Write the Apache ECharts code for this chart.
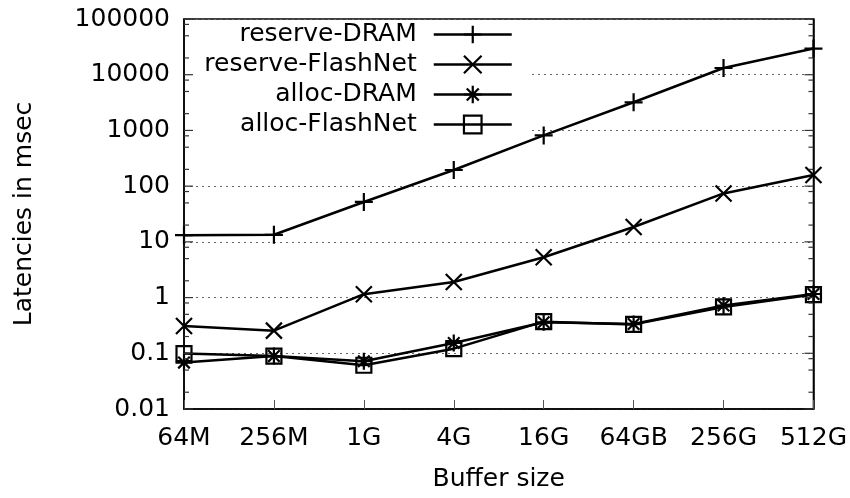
<!DOCTYPE html>
<html>
<head>
<meta charset="utf-8">
<script src="https://cdn.jsdelivr.net/npm/echarts@6/dist/echarts.min.js"></script>
<style>
  html, body { margin: 0; padding: 0; background: #fff; }
  #chart { width: 850px; height: 498px; }
</style>
</head>
<body>
<div id="chart"></div>
<script>
// Buffer sizes along the x axis
const bufferSizes = ['64M', '256M', '1G', '4G', '16G', '64GB', '256G', '512G'];

// Latencies in msec for each configuration
const reserveDram = [13.2, 13.4, 52, 195, 815, 3200, 13200, 29500];
const reserveFlashNet = [0.31, 0.255, 1.15, 1.9, 5.3, 18.5, 74, 158];
const allocDram = [0.068, 0.089, 0.072, 0.153, 0.36, 0.335, 0.72, 1.16];
const allocFlashNet = [0.099, 0.089, 0.061, 0.121, 0.37, 0.33, 0.68, 1.13];

// Decade tick labels on the log axis
const yTickLabels = ['0.01', '0.1', '1', '10', '100', '1000', '10000', '100000'];
// Minor tick multipliers inside each decade
const minorTickSteps = [2, 5, 8];

const FONT = 'DejaVu Sans';
const FS = 25;

const yMin = Number(yTickLabels[0]);
const yMax = Number(yTickLabels[yTickLabels.length - 1]);

// Tick values (major + minor) for the mirrored inward ticks
const tickData = [];
yTickLabels.forEach(function (lbl, i) {
  const base = Number(lbl);
  tickData.push([0, base, 1]);
  if (i < yTickLabels.length - 1) {
    minorTickSteps.forEach(function (m) { tickData.push([0, base * m, 0]); });
  }
});

const SYM = {
  plus: 'path://M0,5L10,5M5,0L5,10',
  cross: 'path://M0,0L10,10M10,0L0,10',
  star: 'path://M0,5L10,5M5,0L5,10M1.6,1.6L8.4,8.4M8.4,1.6L1.6,8.4',
  square: 'path://M0,0L10,0L10,10L0,10Z'
};

function lineSeries(name, data, symbol, size) {
  return {
    name: name,
    type: 'line',
    data: data,
    symbol: symbol,
    symbolSize: size,
    showAllSymbol: true,
    lineStyle: { color: '#000', width: 2.5 },
    itemStyle: { color: 'rgba(0,0,0,0)', borderColor: '#000', borderWidth: 2.2 },
    emphasis: { disabled: true },
    z: 3
  };
}

const chart = echarts.init(document.getElementById('chart'), null, { renderer: 'canvas' });

chart.setOption({
  animation: false,
  backgroundColor: '#fff',
  textStyle: { fontFamily: FONT },
  grid: {
    left: 184, right: 35, top: 19, bottom: 89,
    show: true, borderColor: '#000', borderWidth: 1.5, backgroundColor: 'transparent'
  },
  legend: {
    data: ['reserve-DRAM', 'reserve-FlashNet', 'alloc-DRAM', 'alloc-FlashNet'],
    orient: 'vertical',
    align: 'right',
    right: 322,
    top: 21,
    padding: [1, 15, 2, 16],
    backgroundColor: '#fff',
    itemWidth: 78,
    itemHeight: 22,
    itemGap: 5,
    selectedMode: false,
    itemStyle: { borderWidth: 2.2 },
    lineStyle: { width: 2.5 },
    textStyle: { fontFamily: FONT, fontSize: FS, color: '#000', padding: [0, 12, 0, 0] }
  },
  xAxis: {
    type: 'category',
    data: bufferSizes,
    boundaryGap: false,
    name: 'Buffer size',
    nameLocation: 'middle',
    nameGap: 58,
    nameTextStyle: { fontFamily: FONT, fontSize: FS, color: '#000' },
    axisLine: { lineStyle: { color: '#000', width: 1.5 } },
    axisTick: { inside: true, length: 9, interval: 0, lineStyle: { color: '#555', width: 1 } },
    axisLabel: { fontFamily: FONT, fontSize: FS, color: '#000', margin: 17, interval: 0, hideOverlap: false },
    splitLine: { show: false }
  },
  yAxis: [{
    type: 'log',
    logBase: 10,
    min: yMin,
    max: yMax,
    interval: 1,
    name: 'Latencies in msec',
    nameLocation: 'middle',
    nameGap: 147,
    nameRotate: 90,
    nameTextStyle: { fontFamily: FONT, fontSize: FS, color: '#000' },
    axisLine: { show: true, lineStyle: { color: '#000', width: 1.5 } },
    axisTick: { show: false },
    axisLabel: {
      fontFamily: FONT, fontSize: FS, color: '#000', margin: 14,
      formatter: function (v) {
        const idx = Math.round(Math.log10(v)) - Math.round(Math.log10(yMin));
        return yTickLabels[idx] !== undefined ? yTickLabels[idx] : '';
      }
    },
    splitLine: { show: true, lineStyle: { color: '#666', width: 1, type: [2, 4] } }
  }, {
    type: 'log',
    logBase: 10,
    min: yMin,
    max: yMax,
    interval: 1,
    position: 'right',
    axisLine: { show: true, lineStyle: { color: '#000', width: 1.5 } },
    axisTick: { show: false },
    axisLabel: { show: false },
    splitLine: { show: false }
  }],
  series: [
    lineSeries('reserve-DRAM', reserveDram, SYM.plus, 18),
    lineSeries('reserve-FlashNet', reserveFlashNet, SYM.cross, 16),
    lineSeries('alloc-DRAM', allocDram, SYM.star, 17),
    lineSeries('alloc-FlashNet', allocFlashNet, SYM.square, 15),
    {
      // inward ticks on the left and right frame edges
      type: 'custom',
      silent: true,
      z: 10,
      data: tickData,
      encode: { x: 0, y: 1 },
      renderItem: function (params, api) {
        const cs = params.coordSys;
        const y = api.coord([0, api.value(1)])[1];
        const len = api.value(2) ? 9 : 5;
        const style = { stroke: '#333', lineWidth: 1.2 };
        return {
          type: 'group',
          children: [
            { type: 'line', shape: { x1: cs.x, y1: y, x2: cs.x + len, y2: y }, style: style },
            { type: 'line', shape: { x1: cs.x + cs.width - len, y1: y, x2: cs.x + cs.width, y2: y }, style: style }
          ]
        };
      }
    }
  ]
});
</script>
</body>
</html>
